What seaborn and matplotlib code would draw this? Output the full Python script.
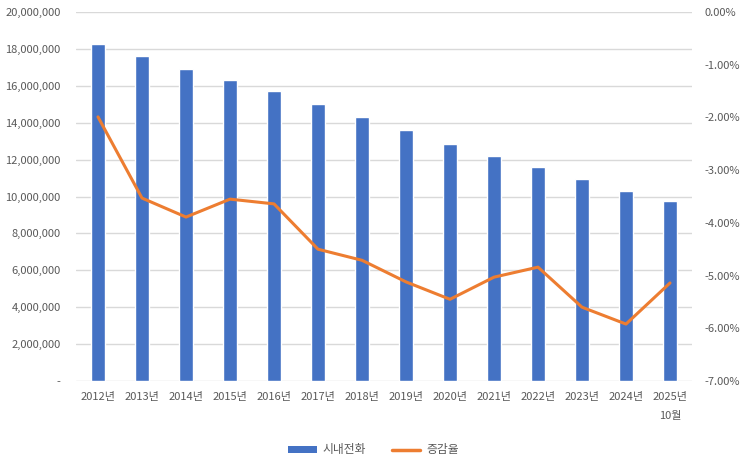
import numpy as np
import pandas as pd
import matplotlib
matplotlib.use("Agg")
import matplotlib.pyplot as plt
import seaborn as sns
from matplotlib.ticker import FuncFormatter, MultipleLocator
from matplotlib.patches import Patch
from matplotlib.lines import Line2D

# data
years = ['2012년', '2013년', '2014년', '2015년', '2016년', '2017년', '2018년',
         '2019년', '2020년', '2021년', '2022년', '2023년', '2024년', '2025년\n10월']
subscribers = [18270000, 17620000, 16930000, 16330000, 15730000, 15020000, 14310000,
               13600000, 12850000, 12200000, 11600000, 10950000, 10300000, 9760000]
change_rate = [-1.99, -3.53, -3.89, -3.55, -3.64, -4.50, -4.71,
               -5.12, -5.45, -5.03, -4.84, -5.60, -5.92, -5.14]

bar_color = '#4472C4'
line_color = '#ED7D31'
text_color = '#595959'
grid_color = '#D9D9D9'

df = pd.DataFrame({'year': years, 'subs': subscribers, 'rate': change_rate})
df['pos'] = np.arange(len(df))

sns.set_theme(style="white")
plt.rcParams['font.family'] = ['Noto Sans CJK KR', 'DejaVu Sans']

fig = plt.figure(figsize=(7.4, 4.63), dpi=100)
ax = fig.add_axes([76 / 740, 1 - 381 / 463, 616 / 740, 369 / 463])

sns.barplot(data=df, x='year', y='subs', color=bar_color, width=0.32,
            saturation=1, ax=ax, zorder=2)
ax.set_ylim(0, 20000000)
ax.set_xlim(-0.5, len(df) - 0.5)
ax.yaxis.set_major_locator(MultipleLocator(2000000))
ax.yaxis.set_major_formatter(FuncFormatter(lambda v, p: '-' if v == 0 else f'{v:,.0f}'))
ax.grid(axis='y', color=grid_color, linewidth=1, zorder=0)
ax.set_axisbelow(True)
ax.set_xlabel('')
ax.set_ylabel('')
for s in ax.spines.values():
    s.set_visible(False)
ax.tick_params(axis='both', length=0, labelsize=8, colors=text_color, pad=11)
ax.tick_params(axis='x', pad=8)
for lbl in ax.get_xticklabels():
    lbl.set_verticalalignment('top')
    lbl.set_linespacing(2.1)

ax2 = ax.twinx()
sns.lineplot(data=df, x='pos', y='rate', color=line_color, linewidth=2.2,
             sort=False, ax=ax2, zorder=3)
ax2.set_ylim(-7, 0)
ax2.set_xlim(-0.5, len(df) - 0.5)
ax2.yaxis.set_major_locator(MultipleLocator(1))
ax2.yaxis.set_major_formatter(FuncFormatter(lambda v, p: f'{v:.2f}%'))
ax2.set_xlabel('')
ax2.set_ylabel('')
for s in ax2.spines.values():
    s.set_visible(False)
ax2.tick_params(axis='both', length=0, labelsize=8, colors=text_color, pad=9)

handles = [Patch(facecolor=bar_color, edgecolor='none'),
           Line2D([0], [0], color=line_color, linewidth=2.5)]
fig.legend(handles, ['시내전화', '증감율'], loc='center', bbox_to_anchor=(0.505, 1 - 450 / 463),
           ncol=2, frameon=False, fontsize=8.5, labelcolor=text_color,
           handlelength=2.4, handleheight=0.6, columnspacing=2.2, handletextpad=0.5)

fig.savefig('out.png', dpi=100)
